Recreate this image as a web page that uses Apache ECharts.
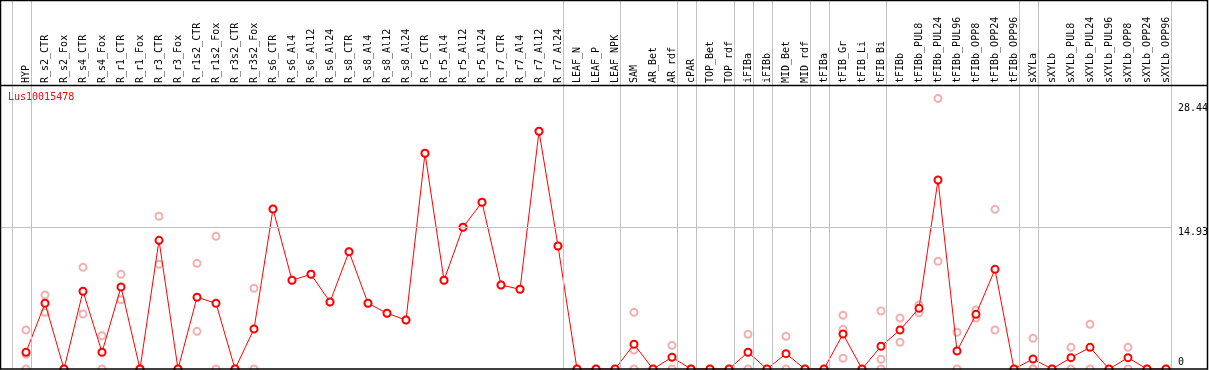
<!DOCTYPE html>
<html>
<head>
<meta charset="utf-8">
<script src="https://cdn.jsdelivr.net/npm/echarts@6/dist/echarts.min.js"></script>
<style>html,body{margin:0;padding:0;background:#fff;}#c{width:1209px;height:370px;}</style>
</head>
<body>
<div id="c"></div>
<script>
const title = 'Lus10015478';
const categories = ['HYP','R_s2_CTR','R_s2_Fox','R_s4_CTR','R_s4_Fox','R_r1_CTR','R_r1_Fox','R_r3_CTR','R_r3_Fox','R_r1s2_CTR','R_r1s2_Fox','R_r3s2_CTR','R_r3s2_Fox','R_s6_CTR','R_s6_Al4','R_s6_Al12','R_s6_Al24','R_s8_CTR','R_s8_Al4','R_s8_Al12','R_s8_Al24','R_r5_CTR','R_r5_Al4','R_r5_Al12','R_r5_Al24','R_r7_CTR','R_r7_Al4','R_r7_Al12','R_r7_Al24','LEAF_N','LEAF_P','LEAF_NPK','SAM','AR_Bet','AR_rdf','cPAR','TOP_Bet','TOP_rdf','iFIBa','iFIBb','MID_Bet','MID_rdf','tFIBa','tFIB_Gr','tFIB_Li','tFIB_Bi','tFIBb','tFIBb_PUL8','tFIBb_PUL24','tFIBb_PUL96','tFIBb_OPP8','tFIBb_OPP24','tFIBb_OPP96','sXYLa','sXYLb','sXYLb_PUL8','sXYLb_PUL24','sXYLb_PUL96','sXYLb_OPP8','sXYLb_OPP24','sXYLb_OPP96'];
const means = [1.76,6.91,0,8.17,1.76,8.62,0,13.53,0,7.54,6.91,0,4.21,16.82,9.33,9.96,7.05,12.33,6.91,5.86,5.15,22.68,9.33,14.90,17.53,8.83,8.38,25.0,12.93,0,0,0,2.60,0,1.23,0,0,0,1.76,0,1.61,0,0,3.68,0,2.39,4.10,6.38,19.87,1.89,5.75,10.48,0,1.05,0,1.19,2.28,0,1.19,0,0];
const replicates = [
  [4.10,1.55,0],[7.78,5.96],[0,0],[10.69,5.78],[3.50,0],[9.96,7.29],[0,0],[16.06,11.01],[0,0],[11.11,3.96],
  [13.95,0],[0,0],[8.49,0],[16.82],[9.33],[9.96],[7.05],[12.33],[6.91],[5.86],
  [5.15],[22.68],[9.33],[14.90],[17.53],[8.83],[8.38],[25.0],[12.93],[0],
  [0],[0],[5.96,2.0,0],[0],[2.49,0],[0],[0],[0],[3.65,0],[0],
  [3.44,0],[0],[0],[5.65,4.17,1.13],[0],[6.10,1.02,0],[5.36,2.81],[6.73,5.92],[28.44,11.33],[3.86,0],
  [6.20,5.36],[16.79,4.10],[0],[3.23,0,0],[0],[2.28,0],[4.70,0],[0],[2.28,0],[0],[0]
];
const groupEnds = [-1,0,28,31,34,35,37,38,39,41,42,45,52,53,60];
const yTickValues = [0,14.93,28.44];
const yPlotMax = 29.86;

const plotTop = 85, plotBottom = 369, gridLeft = 1, gridRight = 1171, step = 19, firstX = 26;
const xMin = -(firstX - gridLeft) / step;
const xMax = (gridRight - firstX) / step;
const yMax = yPlotMax * plotBottom / (plotBottom - plotTop);

const meanData = means.map((v, i) => [i, v]);
const repData = [];
replicates.forEach((arr, i) => arr.forEach(v => repData.push([i, v])));
const font = 'DejaVu Sans Mono';

const chart = echarts.init(document.getElementById('c'), null, {renderer: 'canvas'});
chart.setOption({
  animation: false,
  title: {text: title, left: 8, top: 92, padding: 0, textStyle: {color: '#ff0000', fontFamily: font, fontSize: 10, fontWeight: 'normal'}},
  grid: {left: gridLeft, top: 0, width: gridRight - gridLeft, height: plotBottom, outerBoundsMode: 'none', containLabel: false},
  xAxis: {
    type: 'value', min: xMin, max: xMax, position: 'top', offset: -plotTop,
    axisLine: {show: false}, axisTick: {show: false}, splitLine: {show: false},
    axisLabel: {
      customValues: categories.map((c, i) => i), rotate: 90, margin: 2,
      formatter: v => categories[Math.round(v)] || '',
      fontFamily: font, fontSize: 10, color: '#000', hideOverlap: false
    }
  },
  yAxis: {
    type: 'value', min: 0, max: yMax, position: 'right',
    axisLine: {show: false}, axisTick: {show: false}, splitLine: {show: false},
    axisLabel: {
      customValues: yTickValues, margin: 7, color: '#000', fontFamily: font, fontSize: 10,
      formatter: v => {
        const s = String(v);
        if (v === yTickValues[0]) return '{z|' + s + '}';
        if (v === yTickValues[2]) return '{t|' + s + '}';
        return '{m|' + s + '}';
      },
      rich: {
        z: {fontFamily: font, fontSize: 10, color: '#000', padding: [0,0,13,0]},
        m: {fontFamily: font, fontSize: 10, color: '#000', padding: [11,0,0,0]},
        t: {fontFamily: font, fontSize: 10, color: '#000', padding: [20,0,0,0]}
      }
    }
  },
  series: [
    {
      type: 'line', data: [], silent: true,
      markLine: {
        silent: true, symbol: ['none','none'], label: {show: false},
        lineStyle: {color: '#c0c0c0', width: 1, type: 'solid'},
        data: groupEnds.map(g => ({xAxis: g + 0.25})).concat([{yAxis: yTickValues[1]}])
      }
    },
    {
      type: 'scatter', data: repData, symbol: 'emptyCircle', symbolSize: 7, silent: true,
      itemStyle: {color: '#f09a9a', borderColor: '#f09a9a', borderWidth: 1.2}, z: 3
    },
    {
      type: 'line', data: meanData, symbol: 'emptyCircle', symbolSize: 7, showAllSymbol: true, silent: true,
      lineStyle: {color: '#ff0000', width: 1}, itemStyle: {color: '#ff0000', borderColor: '#ff0000', borderWidth: 1.4}, z: 4
    }
  ],
  graphic: [
    {type: 'rect', z: 100, silent: true, shape: {x: 0.5, y: 0.5, width: 1207, height: 368.5}, style: {fill: 'none', stroke: '#000', lineWidth: 1.5}},
    {type: 'line', z: 100, silent: true, shape: {x1: 0.5, y1: plotTop + 0.5, x2: 1207.5, y2: plotTop + 0.5}, style: {stroke: '#000', lineWidth: 1.5}}
  ]
});
</script>
</body>
</html>
